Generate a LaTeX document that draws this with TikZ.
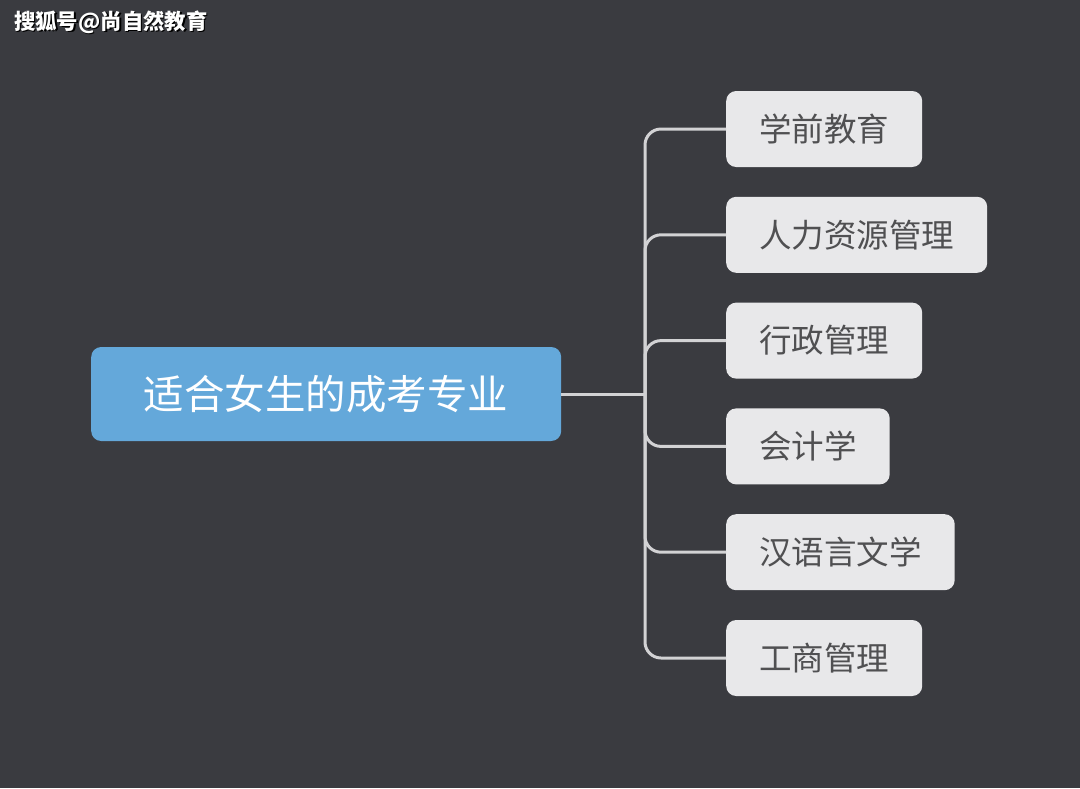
\documentclass[tikz,border=0pt]{standalone}
\usepackage{fontspec}
\usepackage{xcolor}
\usetikzlibrary{positioning}
\newfontfamily\cjk{Noto Sans CJK SC}
\definecolor{bgdark}{HTML}{3A3B40}
\definecolor{rootblue}{HTML}{64A8DA}
\definecolor{leafgray}{HTML}{E8E8EA}
\definecolor{leaftext}{HTML}{505052}
\definecolor{branchgray}{HTML}{D2D2D4}
\tikzset{
  root/.style={fill=rootblue, rounded corners=10pt, text=white, inner sep=0pt,
    minimum width=470pt, minimum height=94pt, font=\cjk\fontsize{40.5pt}{40.5pt}\selectfont},
  leaf/.style={fill=leafgray, rounded corners=10pt, text=leaftext, inner xsep=33pt,
    inner ysep=0pt, minimum height=76pt, font=\cjk\fontsize{32.5pt}{32.5pt}\selectfont},
  branch/.style={draw=branchgray, line width=3pt, rounded corners=16pt},
  watermark/.style={anchor=west, inner sep=0pt, text=white,
    font=\cjk\bfseries\fontsize{21.4pt}{21.4pt}\selectfont},
}
\begin{document}
\begin{tikzpicture}[x=1pt,y=-1pt]
  \fill[bgdark] (0,0) rectangle (1080,788);

  \node[root, anchor=west] (root) at (91,394) {适合女生的成考专业};

  \node[leaf, anchor=west] (m1) at (726,129) {学前教育};
  \node[leaf, below=29.4pt of m1.south west, anchor=north west] (m2) {人力资源管理};
  \node[leaf, below=29.4pt of m2.south west, anchor=north west] (m3) {行政管理};
  \node[leaf, below=29.4pt of m3.south west, anchor=north west] (m4) {会计学};
  \node[leaf, below=29.4pt of m4.south west, anchor=north west] (m5) {汉语言文学};
  \node[leaf, below=29.4pt of m5.south west, anchor=north west] (m6) {工商管理};

  \coordinate (j) at (645,394);
  \draw[branch] (root.east) -- (j);
  \foreach \m in {m1,m2,m3,m4,m5,m6}
    \draw[branch] (j) |- (\m.west);

  \node[watermark, text=black] (ws) at (15.5,23.5) {搜狐号@尚自然教育};
  \node[watermark] (w) at (14,22) {搜狐号@尚自然教育};
\end{tikzpicture}
\end{document}
